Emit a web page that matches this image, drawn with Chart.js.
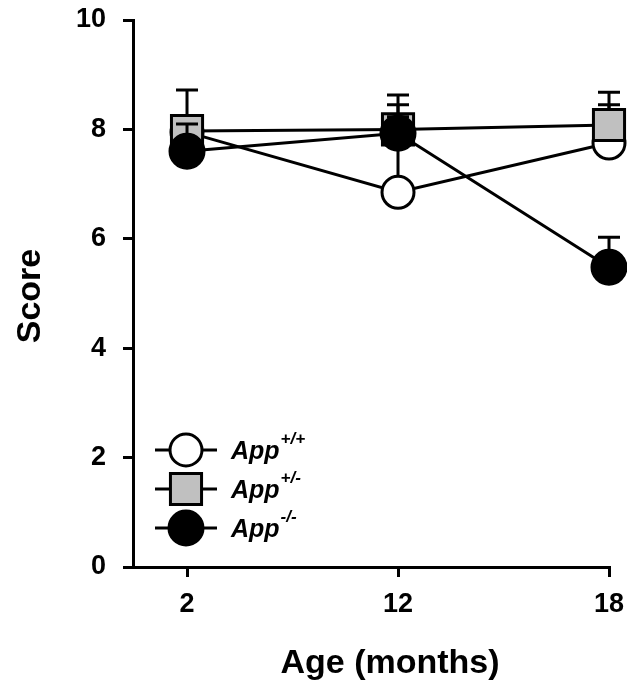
<!DOCTYPE html>
<html>
<head>
<meta charset="utf-8">
<script src="https://cdn.jsdelivr.net/npm/chart.js@4/dist/chart.umd.min.js"></script>
<style>
  html, body { margin: 0; padding: 0; background: #fff; }
  #wrap { width: 627px; height: 683px; }
</style>
</head>
<body>
<div id="wrap"><canvas id="scoreChart" width="627" height="683"></canvas></div>
<script>
// data
const ages = ['2', '12', '18'];
const genotypes = ['+/+', '+/-', '-/-'];
const wtScore = [7.95, 6.85, 7.75];
const wtErr = [0.15, 1.6, 0.7];
const hetScore = [7.97, 8.0, 8.08];
const hetErr = [0.75, 0.63, 0.6];
const koScore = [7.6, 7.93, 5.48];
const koErr = [0.5, 0.3, 0.55];
const yTicks = [0, 2, 4, 6, 8, 10];
const xTitle = 'Age (months)';
const yTitle = 'Score';

const FONT = 'Liberation Sans, Arial, sans-serif';

function toPoints(vals) {
  return vals.map((v, i) => ({ x: i, y: v }));
}

// upward error bars, drawn just before each dataset so layering follows dataset order
const errorBars = {
  id: 'errorBars',
  beforeDatasetDraw(chart, args) {
    const ds = chart.data.datasets[args.index];
    if (!ds.err) return;
    const { ctx, scales: { x, y } } = chart;
    ctx.save();
    ctx.strokeStyle = '#000';
    ctx.lineWidth = 3;
    ds.data.forEach((p, i) => {
      const px = x.getPixelForValue(p.x);
      const y0 = y.getPixelForValue(p.y);
      const y1 = y.getPixelForValue(p.y + ds.err[i]);
      ctx.beginPath();
      ctx.moveTo(px, y0);
      ctx.lineTo(px, y1);
      ctx.moveTo(px - 11, y1);
      ctx.lineTo(px + 11, y1);
      ctx.stroke();
    });
    ctx.restore();
  }
};

// axis titles, placed like the original figure
const axisTitles = {
  id: 'axisTitles',
  afterDraw(chart) {
    const { ctx } = chart;
    ctx.save();
    ctx.fillStyle = '#000';
    ctx.font = 'bold 34px ' + FONT;
    ctx.textAlign = 'center';
    ctx.textBaseline = 'alphabetic';
    ctx.fillText(xTitle, 390, 673);
    ctx.translate(40, 296);
    ctx.rotate(-Math.PI / 2);
    ctx.fillText(yTitle, 0, 0);
    ctx.restore();
  }
};

// legend with superscript genotype
const genoLegend = {
  id: 'genoLegend',
  afterDraw(chart) {
    const { ctx } = chart;
    const rows = [450, 489, 528];
    ctx.save();
    chart.data.datasets.forEach((ds, i) => {
      const yy = rows[i];
      ctx.strokeStyle = '#000';
      ctx.lineWidth = 3;
      ctx.beginPath();
      ctx.moveTo(155, yy);
      ctx.lineTo(217, yy);
      ctx.stroke();
      ctx.fillStyle = ds.pointBackgroundColor;
      ctx.beginPath();
      if (ds.pointStyle === 'rect') {
        const s = ds.pointRadius * Math.SQRT1_2;
        ctx.rect(186 - s, yy - s, 2 * s, 2 * s);
      } else {
        ctx.arc(186, yy, ds.pointRadius, 0, Math.PI * 2);
      }
      ctx.fill();
      ctx.stroke();
      ctx.fillStyle = '#000';
      ctx.textBaseline = 'alphabetic';
      ctx.textAlign = 'left';
      ctx.font = 'italic bold 25px ' + FONT;
      ctx.fillText('App', 231, yy + 9);
      const w = ctx.measureText('App').width;
      ctx.font = 'italic bold 17px ' + FONT;
      ctx.fillText(genotypes[i], 231 + w + 1, yy - 6);
    });
    ctx.restore();
  }
};

const tickFont = { family: FONT, size: 27, weight: 'bold' };

new Chart(document.getElementById('scoreChart'), {
  type: 'line',
  data: {
    datasets: [
      {
        label: 'App+/+', data: toPoints(wtScore), err: wtErr, order: 2, clip: false,
        borderColor: '#000', borderWidth: 3,
        pointStyle: 'circle', pointRadius: 16, pointBorderWidth: 3,
        pointBackgroundColor: '#ffffff', pointBorderColor: '#000'
      },
      {
        label: 'App+/-', data: toPoints(hetScore), err: hetErr, order: 1, clip: false,
        borderColor: '#000', borderWidth: 3,
        pointStyle: 'rect', pointRadius: 22, pointBorderWidth: 3,
        pointBackgroundColor: '#c0c0c0', pointBorderColor: '#000'
      },
      {
        label: 'App-/-', data: toPoints(koScore), err: koErr, order: 0, clip: false,
        borderColor: '#000', borderWidth: 3,
        pointStyle: 'circle', pointRadius: 17, pointBorderWidth: 3,
        pointBackgroundColor: '#000', pointBorderColor: '#000'
      }
    ]
  },
  options: {
    responsive: false,
    animation: false,
    layout: { autoPadding: false, padding: { top: 20, right: 18, left: 0, bottom: 0 } },
    plugins: { legend: { display: false }, tooltip: { enabled: false } },
    elements: { line: { tension: 0 } },
    scales: {
      x: {
        type: 'linear',
        min: -0.256,
        max: 2,
        afterBuildTicks: axis => { axis.ticks = ages.map((_, i) => ({ value: i })); },
        afterFit: axis => { axis.height = 116; axis.paddingLeft = 0; axis.paddingRight = 0; },
        ticks: {
          color: '#000', font: tickFont, padding: 11,
          maxRotation: 0, autoSkip: false,
          callback: v => ages[v]
        },
        grid: { drawOnChartArea: false, drawTicks: true, tickLength: 10, color: '#000', lineWidth: 3 },
        border: { color: '#000', width: 3 }
      },
      y: {
        min: 0,
        max: 10,
        afterBuildTicks: axis => { axis.ticks = yTicks.map(v => ({ value: v })); },
        afterFit: axis => { axis.width = 133; axis.paddingTop = 0; axis.paddingBottom = 0; },
        ticks: { color: '#000', font: tickFont, padding: 17 },
        grid: { drawOnChartArea: false, drawTicks: true, tickLength: 10, color: '#000', lineWidth: 3 },
        border: { color: '#000', width: 3 }
      }
    }
  },
  plugins: [errorBars, axisTitles, genoLegend]
});
</script>
</body>
</html>
